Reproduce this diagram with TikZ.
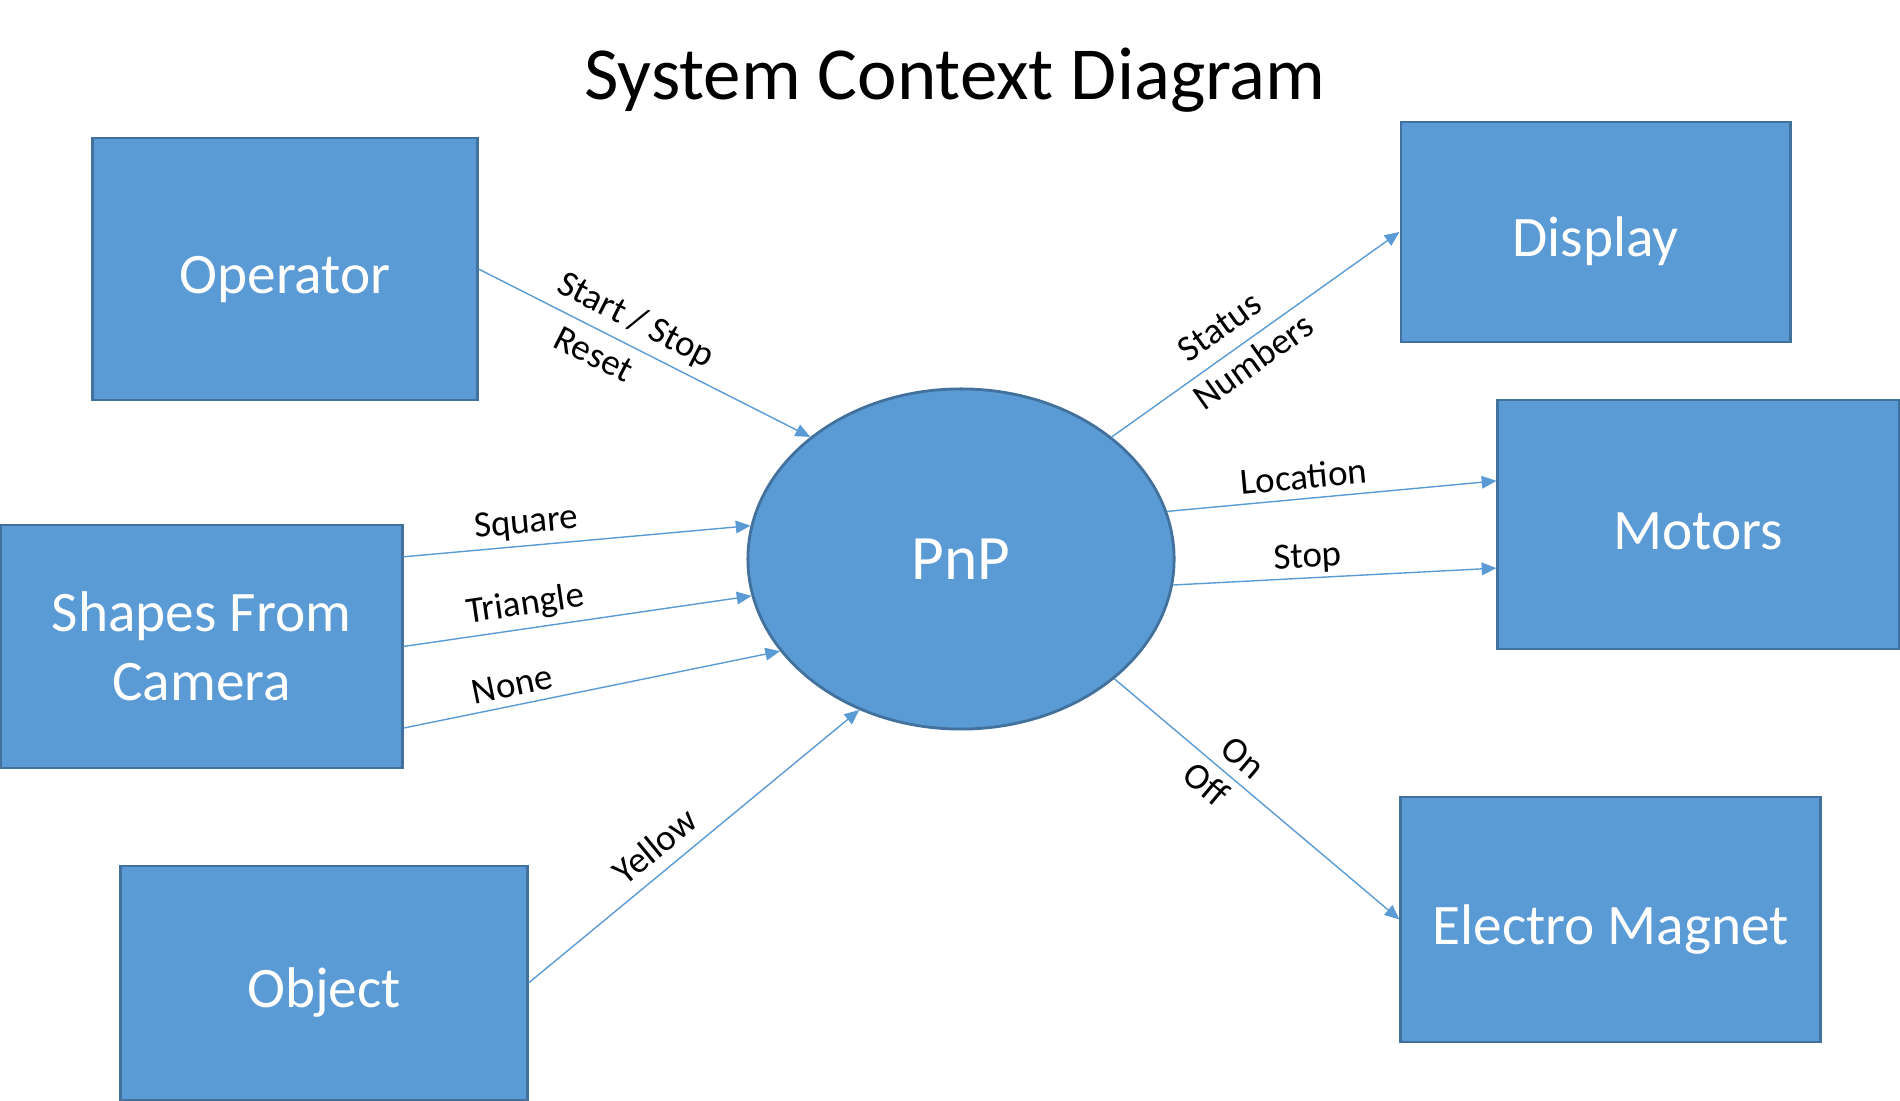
\documentclass[tikz,border=0pt]{standalone}
\usepackage{fontspec}
\setmainfont{Carlito}
\usetikzlibrary{arrows.meta,shapes.geometric}
\definecolor{boxblue}{HTML}{5B9BD5}
\definecolor{boxedge}{HTML}{41719C}
\tikzset{
  block/.style={draw=boxedge, line width=0.8pt, fill=boxblue, text=white,
    font=\fontsize{16.3}{19.7}\selectfont, align=center, inner sep=0pt},
  oneline/.style={text height=16pt, text depth=2pt},
  flow/.style={draw=boxblue, line width=0.4pt, -{Triangle[length=4.2pt,width=3.6pt]}},
  lbl/.style={font=\fontsize{10.5}{12.5}\selectfont, sloped, inner sep=0pt,
    text height=7pt, text depth=2pt}
}
\begin{document}
\begin{tikzpicture}[x=0.01cm, y=-0.01cm]
  \useasboundingbox (0,0) rectangle (1900,1101);
  \node (title) at (955,80) {\fontsize{21.3}{25}\selectfont System Context Diagram};

  \node[block, oneline, minimum width=3.84cm, minimum height=2.62cm] (operator) at (285,269) {Operator};
  \node[block, minimum width=4.01cm, minimum height=2.43cm] (shapes) at (201.5,646.5) {Shapes From\\Camera};
  \node[block, oneline, minimum width=4.06cm, minimum height=2.34cm] (object) at (324,983) {Object};
  \node[block, oneline, minimum width=3.89cm, minimum height=2.20cm] (display) at (1595.5,232) {Display};
  \node[block, oneline, minimum width=4.01cm, minimum height=2.49cm] (motors) at (1698.5,524.5) {Motors};
  \node[block, oneline, minimum width=4.19cm, minimum height=2.45cm] (magnet) at (1610.5,919.5) {Electro Magnet};
  \node[block, ellipse, minimum width=4.26cm, minimum height=3.40cm, font=\fontsize{18}{21}\selectfont] (pnp) at (961,559) {PnP};

  \draw[flow] (operator.east) -- node[lbl, pos=0.44, above=2pt] {Start / Stop}
    node[lbl, pos=0.38, below=3pt] {Reset} (pnp.141);
  \draw[flow] ([yshift=25.5pt]shapes.east) -- node[lbl, pos=0.36, above=1.4pt] {Square} (pnp.171);
  \draw[flow] (shapes.east) -- node[lbl, pos=0.36, above=1.7pt] {Triangle} (pnp.190);
  \draw[flow] ([yshift=-23.2pt]shapes.east) -- node[lbl, pos=0.3, above=0.4pt] {None} (pnp.207);
  \draw[flow] (object.east) -- node[lbl, pos=0.43, above=1.4pt] {Yellow} (pnp.236);
  \draw[flow] (pnp.39) -- node[lbl, pos=0.43, above=2.2pt] {Status}
    node[lbl, pos=0.45, below=2.1pt] {Numbers} (display.west);
  \draw[flow] (pnp.13.6) -- node[lbl, pos=0.42, above=0.6pt] {Location} ([yshift=12.4pt]motors.west);
  \draw[flow] (pnp.-7) -- node[lbl, pos=0.42, above=0.8pt] {Stop} ([yshift=-12.4pt]motors.west);
  \draw[flow] (pnp.-38.7) -- node[lbl, pos=0.40, above=0.8pt] {On}
    node[lbl, pos=0.37, below=2.4pt] {Off} (magnet.west);
\end{tikzpicture}
\end{document}
